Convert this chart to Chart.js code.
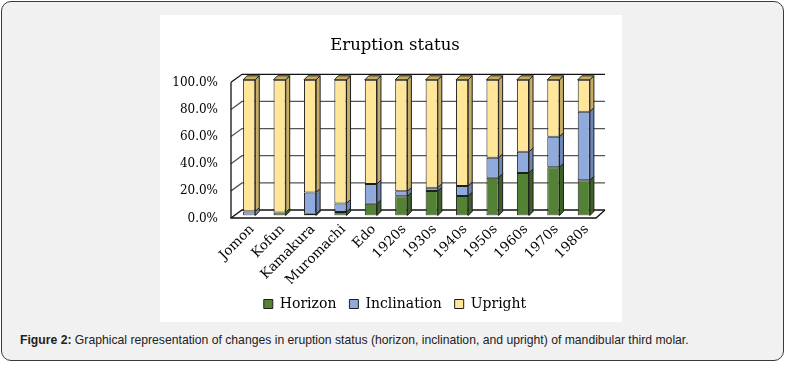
<!DOCTYPE html>
<html lang="en">
<head>
  <meta charset="UTF-8">
  <title>Eruption status</title>
  <script src="https://cdn.jsdelivr.net/npm/chart.js"></script>
  <style>
    body, html {
      width: 786px;
      height: 365px;
      margin: 0;
      padding: 0;
      overflow: hidden;
      background: #fff;
    }
    .frame {
      position: absolute;
      left: 1px;
      top: 1px;
      width: 781px;
      height: 358px;
      border: 1.5px solid #3a3a3a;
      border-radius: 10px;
      background: #f1f1f1;
    }
    .chart-box {
      position: absolute;
      left: 160px;
      top: 15px;
      width: 462px;
      height: 307px;
      background: #fff;
    }
    #eruptionChart {
      position: absolute;
      left: 0;
      top: 0;
    }
    .caption {
      position: absolute;
      left: 20px;
      top: 333px;
      font-family: "Liberation Sans", Arial, sans-serif;
      font-size: 12.2px;
      color: #222;
      white-space: nowrap;
    }
  </style>
</head>
<body>
  <div class="frame"></div>
  <div class="chart-box"><canvas id="eruptionChart" width="470" height="307"></canvas></div>
  <div class="caption"><b>Figure 2:</b> Graphical representation of changes in eruption status (horizon, inclination, and upright) of mandibular third molar.</div>

  <script>
    const categories = ['Jomon', 'Kofun', 'Kamakura', 'Muromachi', 'Edo', '1920s', '1930s', '1940s', '1950s', '1960s', '1970s', '1980s'];
    const horizon     = [0.0, 2.2, 1.2, 2.5, 8.6, 14.1, 18.0, 14.3, 27.9, 31.4, 35.6, 25.9];
    const inclination = [3.0, 0.0, 15.8, 6.4, 14.6, 3.7, 2.5, 7.4, 14.6, 15.5, 22.4, 50.6];
    const upright     = [97.0, 97.8, 83.0, 91.1, 76.8, 82.2, 79.5, 78.3, 57.5, 53.1, 42.0, 23.5];
    const yTicks = [0, 20, 40, 60, 80, 100];

    const serif = 'DejaVu Serif';
    const sideColors = ['#3d6127', '#6c86b6', '#c5ad68'];
    const edge = '#1e1e1e';

    // fake 3D: walls, floor and bar sides/tops
    const depth3d = {
      id: 'depth3d',
      beforeDatasetsDraw(chart) {
        const { ctx, chartArea: a, scales: { y } } = chart;
        const fl = a.left - 3, bl = a.left + 8, br = a.right + 6;
        ctx.save();
        ctx.lineWidth = 1.3;
        yTicks.forEach(v => {
          const yf = y.getPixelForValue(v) + 2.5;
          const yb = y.getPixelForValue(v) - 5.5;
          ctx.strokeStyle = v === 100 || v === 0 ? '#111' : '#555';
          ctx.beginPath();
          ctx.moveTo(fl, yf);
          ctx.lineTo(bl, yb);
          ctx.lineTo(br, yb);
          ctx.stroke();
        });
        ctx.strokeStyle = '#111';
        ctx.beginPath();
        ctx.moveTo(fl, y.getPixelForValue(100) + 2.5);
        ctx.lineTo(fl, y.getPixelForValue(0) + 2.5);
        ctx.lineTo(a.right - 3, y.getPixelForValue(0) + 2.5);
        ctx.lineTo(br, y.getPixelForValue(0) - 5.5);
        ctx.stroke();
        ctx.restore();
      },
      afterDatasetsDraw(chart) {
        const { ctx } = chart;
        const dx = 4, dy = -4;
        ctx.save();
        ctx.lineWidth = 1;
        ctx.strokeStyle = edge;
        chart.data.datasets.forEach((ds, di) => {
          const meta = chart.getDatasetMeta(di);
          meta.data.forEach((bar, i) => {
            const { x, y, base, width } = bar.getProps(['x', 'y', 'base', 'width'], true);
            if (Math.abs(base - y) < 0.5) return;
            const r = x + width / 2, l = x - width / 2;
            ctx.fillStyle = sideColors[di];
            ctx.beginPath();
            ctx.moveTo(r, y);
            ctx.lineTo(r + dx, y + dy);
            ctx.lineTo(r + dx, base + dy);
            ctx.lineTo(r, base);
            ctx.closePath();
            ctx.fill();
            ctx.stroke();
            if (di === chart.data.datasets.length - 1) {
              ctx.beginPath();
              ctx.moveTo(l, y);
              ctx.lineTo(l + dx, y + dy);
              ctx.lineTo(r + dx, y + dy);
              ctx.lineTo(r, y);
              ctx.closePath();
              ctx.fill();
              ctx.stroke();
            }
          });
        });
        ctx.restore();
      }
    };

    const ctx = document.getElementById('eruptionChart').getContext('2d');
    new Chart(ctx, {
      type: 'bar',
      data: {
        labels: categories,
        datasets: [
          { label: 'Horizon', data: horizon, backgroundColor: '#548235' },
          { label: 'Inclination', data: inclination, backgroundColor: '#8faadc' },
          { label: 'Upright', data: upright, backgroundColor: '#ffe699' }
        ]
      },
      options: {
        responsive: false,
        animation: false,
        layout: { padding: { left: 0, right: 0, top: 0, bottom: 1 } },
        datasets: {
          bar: {
            borderColor: edge,
            borderWidth: 1,
            borderSkipped: false,
            categoryPercentage: 1,
            barPercentage: 0.4
          }
        },
        scales: {
          x: {
            stacked: true,
            grid: { display: false, drawTicks: false },
            border: { display: false },
            ticks: {
              autoSkip: false,
              minRotation: 45,
              maxRotation: 45,
              padding: 6,
              labelOffset: 3,
              color: '#000',
              font: { family: serif, size: 13.5 }
            },
            afterFit: s => { s.height = 68.5; }
          },
          y: {
            stacked: true,
            min: 0,
            max: 100,
            grid: { display: false, drawTicks: false },
            border: { display: false },
            ticks: {
              stepSize: 20,
              padding: 16,
              labelOffset: 3,
              color: '#000',
              font: { family: serif, size: 12 },
              callback: v => v.toFixed(1) + '%'
            },
            afterFit: s => { s.width = 74; }
          },
          // empty right axis keeps room for the back wall
          yRight: {
            position: 'right',
            grid: { display: false, drawTicks: false },
            border: { display: false },
            ticks: { display: false },
            afterFit: s => { s.width = 31; }
          }
        },
        plugins: {
          title: {
            display: true,
            text: 'Eruption status',
            color: '#000',
            font: { family: serif, size: 16.5, weight: 'normal' },
            padding: { top: 21, bottom: 24 }
          },
          legend: {
            position: 'bottom',
            labels: {
              boxWidth: 9,
              boxHeight: 9,
              padding: 13,
              color: '#000',
              font: { family: serif, size: 14 }
            }
          },
          tooltip: { enabled: false }
        }
      },
      plugins: [depth3d]
    });
  </script>
</body>
</html>
